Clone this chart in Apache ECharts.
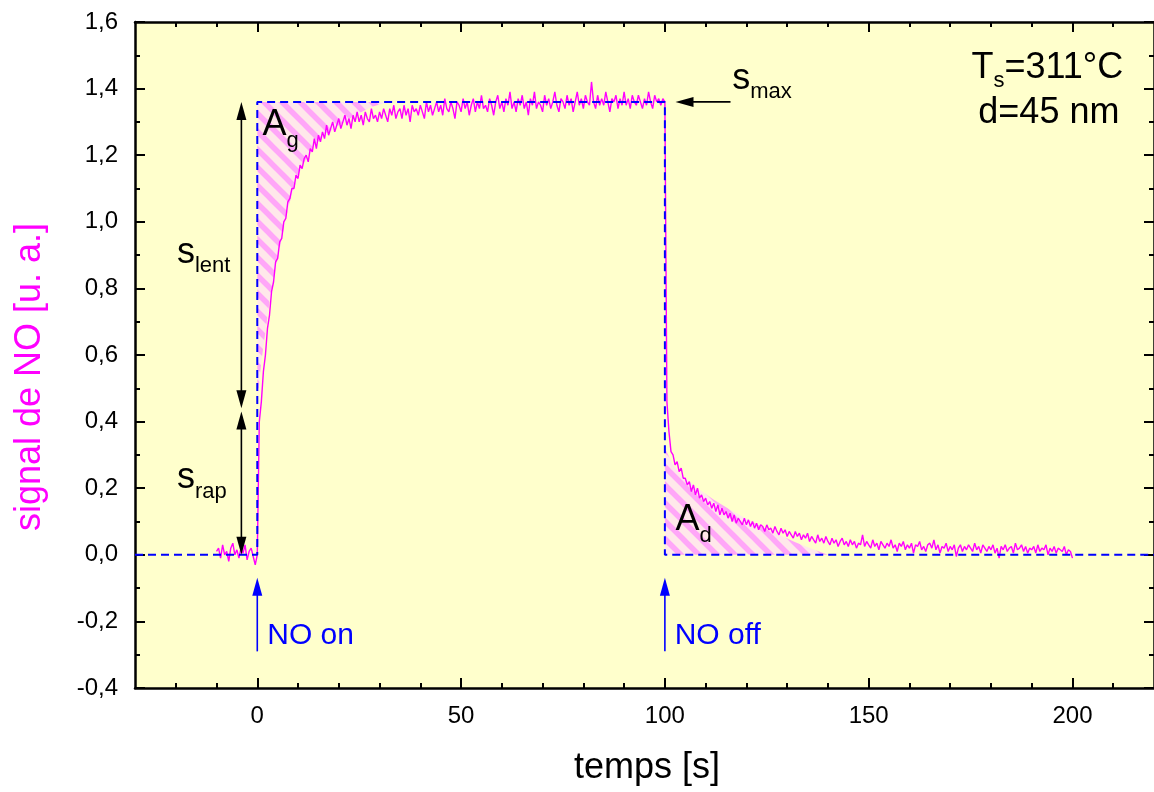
<!DOCTYPE html>
<html>
<head>
<meta charset="utf-8">
<script src="https://cdn.jsdelivr.net/npm/echarts@6.0.0/dist/echarts.min.js"></script>
<style>
  html, body { margin: 0; padding: 0; background: #ffffff; }
  #chart { width: 1154px; height: 792px; }
</style>
</head>
<body>
<div id="chart"></div>
<script>
// ---------------- DATA ----------------
// Sampling grid of the measured NO signal (seconds)
const DT = 0.5;
const PRE_T0 = -10;     // baseline before NO on
const RISE_T0 = 0;      // NO on
const DECAY_T0 = 100;   // NO off

// Measured signal before NO on (t = -10 ... -0.5)
const preSignal = [
  0.01, 0.02, -0.01, 0.03, 0.00, 0.01, -0.02, 0.02, 0.035, 0.00,
  0.015, -0.01, 0.02, 0.005, 0.03, -0.015, 0.01, 0.02, -0.005, -0.03
];

// Measured signal while NO is on (t = 0 ... 99.5)
const riseSignal = [
  0.00, 0.40, 0.46, 0.55, 0.60, 0.68, 0.72, 0.79, 0.82, 0.88,
  0.89, 0.94, 0.95, 1.00, 1.01, 1.06, 1.07, 1.10, 1.10, 1.14,
  1.13, 1.17, 1.16, 1.19, 1.20, 1.18, 1.22, 1.21, 1.25, 1.22,
  1.26, 1.24, 1.27, 1.25, 1.29, 1.26, 1.28, 1.30, 1.27, 1.29,
  1.31, 1.28, 1.30, 1.32, 1.29, 1.31, 1.28, 1.32, 1.30, 1.33,
  1.30, 1.32, 1.29, 1.33, 1.31, 1.30, 1.34, 1.31, 1.32, 1.30,
  1.33, 1.31, 1.34, 1.32, 1.30, 1.34, 1.32, 1.35, 1.31, 1.33,
  1.34, 1.31, 1.35, 1.32, 1.34, 1.30, 1.35, 1.33, 1.34, 1.32,
  1.35, 1.33, 1.31, 1.36, 1.33, 1.35, 1.32, 1.34, 1.36, 1.33,
  1.35, 1.32, 1.37, 1.34, 1.33, 1.36, 1.34, 1.31, 1.36, 1.35,
  1.33, 1.37, 1.34, 1.36, 1.32, 1.35, 1.37, 1.33, 1.36, 1.34,
  1.38, 1.34, 1.35, 1.33, 1.37, 1.35, 1.32, 1.36, 1.38, 1.34,
  1.36, 1.33, 1.37, 1.35, 1.39, 1.34, 1.36, 1.33, 1.37, 1.35,
  1.38, 1.34, 1.36, 1.32, 1.37, 1.35, 1.39, 1.34, 1.36, 1.35,
  1.33, 1.38, 1.35, 1.37, 1.34, 1.36, 1.39, 1.35, 1.33, 1.37,
  1.36, 1.34, 1.38, 1.35, 1.37, 1.33, 1.36, 1.39, 1.35, 1.37,
  1.34, 1.38, 1.36, 1.35, 1.42, 1.36, 1.34, 1.38, 1.35, 1.37,
  1.35, 1.39, 1.36, 1.33, 1.37, 1.36, 1.38, 1.34, 1.37, 1.35,
  1.39, 1.35, 1.37, 1.34, 1.38, 1.36, 1.35, 1.38, 1.36, 1.34,
  1.37, 1.35, 1.39, 1.36, 1.34, 1.38, 1.36, 1.37, 1.35, 1.37
];

// Measured signal after NO off (t = 100 ... 200)
const decaySignal = [
  1.36, 0.46, 0.37, 0.31, 0.30, 0.27, 0.28, 0.25, 0.26, 0.23,
  0.23, 0.21, 0.22, 0.19, 0.21, 0.18, 0.20, 0.17, 0.18, 0.16,
  0.17, 0.15, 0.16, 0.14, 0.155, 0.13, 0.15, 0.12, 0.14, 0.12,
  0.13, 0.11, 0.125, 0.10, 0.12, 0.095, 0.11, 0.10, 0.09, 0.11,
  0.09, 0.105, 0.085, 0.10, 0.08, 0.095, 0.075, 0.09, 0.085, 0.07,
  0.09, 0.075, 0.08, 0.065, 0.085, 0.07, 0.06, 0.08, 0.065, 0.075,
  0.055, 0.07, 0.06, 0.05, 0.07, 0.055, 0.065, 0.045, 0.06, 0.05,
  0.065, 0.04, 0.055, 0.045, 0.035, 0.06, 0.04, 0.05, 0.035, 0.055,
  0.04, 0.03, 0.05, 0.035, 0.045, 0.025, 0.04, 0.05, 0.03, 0.04,
  0.025, 0.045, 0.03, 0.04, 0.02, 0.035, 0.03, 0.06, 0.025, 0.04,
  0.03, 0.02, 0.045, 0.025, 0.035, 0.015, 0.04, 0.03, 0.02, 0.035,
  0.025, 0.045, 0.02, 0.03, 0.01, 0.035, 0.025, 0.04, 0.015, 0.03,
  0.02, 0.035, 0.005, 0.03, 0.025, 0.04, 0.015, 0.025, 0.01, 0.03,
  0.035, 0.02, 0.045, 0.015, 0.03, 0.005, 0.025, 0.02, 0.035, 0.01,
  0.025, 0.015, 0.03, -0.005, 0.02, 0.03, 0.01, 0.025, 0.015, 0.03,
  0.02, 0.01, 0.035, 0.015, 0.025, 0.005, 0.03, 0.02, 0.01, 0.025,
  0.015, 0.03, 0.005, 0.02, -0.01, 0.025, 0.015, 0.03, 0.01, 0.02,
  0.025, 0.005, 0.035, 0.015, 0.02, 0.03, 0.01, 0.025, 0.005, 0.02,
  0.015, 0.025, 0.005, 0.03, 0.01, 0.02, 0.015, 0.03, 0.00, 0.02,
  0.01, 0.025, 0.005, 0.02, 0.015, 0.01, 0.025, 0.00, 0.015, 0.01,
  -0.01
];

// Smooth fits bounding the hatched areas A_g and A_d
const fitRiseT = [0, 0.5, 1, 2, 3, 4, 5, 6, 7, 8, 10, 12, 14, 17, 20, 24, 28, 32];
const fitRiseV = [0.44, 0.52, 0.58, 0.67, 0.76, 0.83, 0.89, 0.95, 1.01, 1.06, 1.14, 1.19, 1.23, 1.265, 1.29, 1.32, 1.345, 1.36];
const fitDecayT = [100, 102, 104, 106, 108, 112, 116, 120, 124, 128, 132, 136, 140];
const fitDecayV = [0.32, 0.27, 0.24, 0.22, 0.20, 0.165, 0.135, 0.108, 0.083, 0.06, 0.038, 0.018, 0.0];

// Characteristic levels
const S_MAX = 1.36;
const S_RAP = 0.435;

// Axes
const X_MIN = -30, X_MAX = 220;
const Y_MIN = -0.4, Y_MAX = 1.6;
const X_MAJOR = [0, 50, 100, 150, 200];
const X_LABELS = ['0', '50', '100', '150', '200'];
const X_MINOR = [-20, -10, 10, 20, 30, 40, 60, 70, 80, 90, 110, 120, 130, 140, 160, 170, 180, 190, 210];
const Y_TICKS = [-0.4, -0.2, 0, 0.2, 0.4, 0.6, 0.8, 1.0, 1.2, 1.4, 1.6];
const Y_LABELS = ['-0,4', '-0,2', '0,0', '0,2', '0,4', '0,6', '0,8', '1,0', '1,2', '1,4', '1,6'];

// ---------------- BUILD ----------------
const FONT = "'Liberation Sans', Arial, Helvetica, sans-serif";
const signal = [];
preSignal.forEach((v, i) => signal.push([PRE_T0 + i * DT, v]));
riseSignal.forEach((v, i) => signal.push([RISE_T0 + i * DT, v]));
decaySignal.forEach((v, i) => signal.push([DECAY_T0 + i * DT, v]));

const outline = [[X_MIN, 0], [RISE_T0, 0], [RISE_T0, S_MAX], [DECAY_T0, S_MAX], [DECAY_T0, 0], [X_MAX, 0]];

const riseArea = [[RISE_T0, S_MAX]].concat(fitRiseT.map((t, i) => [t, fitRiseV[i]]));
const decayArea = [[DECAY_T0, 0]].concat(fitDecayT.map((t, i) => [t, fitDecayV[i]]));

function makeHatch() {
  const P = 18;
  const c = document.createElement('canvas');
  c.width = P; c.height = P;
  const g = c.getContext('2d');
  g.fillStyle = '#FFE8EA';
  g.fillRect(0, 0, P, P);
  g.strokeStyle = '#FFA6F8';
  g.lineWidth = 5.5;
  for (const k of [-P, 0, P]) {
    g.beginPath();
    g.moveTo(k - 3, -3);
    g.lineTo(k + P + 3, P + 3);
    g.stroke();
  }
  return c;
}
const hatch = { image: makeHatch(), repeat: 'repeat' };

// Arrows: [x1, y1, x2, y2, headAtStart, headAtEnd, color]
const ARROWS = [
  [-3.9, 0, -3.9, 0.43, 1, 1, '#000000'],
  [-3.9, 0.44, -3.9, S_MAX, 1, 1, '#000000'],
  [116.1, S_MAX, 102.6, S_MAX, 0, 1, '#000000'],
  [RISE_T0, -0.29, RISE_T0, -0.069, 0, 1, '#0000FF'],
  [DECAY_T0, -0.29, DECAY_T0, -0.069, 0, 1, '#0000FF']
];

// Text annotations anchored in data coordinates: parts = [text, fontSize, dx, dy]
const NOTES = [
  { at: [1.3, 1.291], color: '#000000', parts: [['A', 36, 0, 0], ['g', 22, 24, 16]] },
  { at: [102.6, 0.105], color: '#000000', parts: [['A', 36, 0, 0], ['d', 22, 24, 16]] },
  { at: [-19.7, 0.907], color: '#000000', parts: [['s', 36, 0, 0], ['lent', 22, 18, 13]] },
  { at: [-19.7, 0.231], color: '#000000', parts: [['s', 36, 0, 0], ['rap', 22, 18, 14]] },
  { at: [116.5, 1.43], color: '#000000', parts: [['s', 36, 0, 0], ['max', 22, 18, 13]] },
  { at: [175.2, 1.462], color: '#000000', parts: [['T', 36, 0, 0], ['s', 22, 22, 13], ['=311°C', 36, 33, 0]] },
  { at: [176.9, 1.327], color: '#000000', parts: [['d=45 nm', 36, 0, 0]] },
  { at: [2.44, -0.243], color: '#0000FF', parts: [['NO on', 30, 0, 0]] },
  { at: [102.4, -0.243], color: '#0000FF', parts: [['NO off', 30, 0, 0]] }
];

function polygonRender(points) {
  return function (params, api) {
    return {
      type: 'polygon',
      shape: { points: points.map(p => api.coord(p)) },
      style: { fill: hatch, stroke: null }
    };
  };
}

function headPoly(tip, ux, uy, color) {
  const L = 18, W = 5;
  const bx = tip[0] - ux * L, by = tip[1] - uy * L;
  const nx = -uy, ny = ux;
  return {
    type: 'polygon',
    shape: { points: [tip, [bx + nx * W, by + ny * W], [bx - nx * W, by - ny * W]] },
    style: { fill: color, stroke: null }
  };
}

function arrowRender(params, api) {
  const a = ARROWS[params.dataIndex];
  const p1 = api.coord([a[0], a[1]]);
  const p2 = api.coord([a[2], a[3]]);
  const dx = p2[0] - p1[0], dy = p2[1] - p1[1];
  const len = Math.hypot(dx, dy);
  const ux = dx / len, uy = dy / len;
  const children = [];
  let s = p1, e = p2;
  if (a[4]) { s = [p1[0] + ux * 12, p1[1] + uy * 12]; children.push(headPoly(p1, -ux, -uy, a[6])); }
  if (a[5]) { e = [p2[0] - ux * 12, p2[1] - uy * 12]; children.push(headPoly(p2, ux, uy, a[6])); }
  children.unshift({
    type: 'line',
    shape: { x1: s[0], y1: s[1], x2: e[0], y2: e[1] },
    style: { stroke: a[6], lineWidth: 1.6 }
  });
  return { type: 'group', children: children };
}

function noteRender(params, api) {
  const n = NOTES[params.dataIndex];
  const p = api.coord(n.at);
  return {
    type: 'group',
    children: n.parts.map(part => ({
      type: 'text',
      x: p[0] + part[2],
      y: p[1] + part[3],
      style: {
        text: part[0], fontSize: part[1], fontFamily: FONT, fill: n.color,
        align: 'left', verticalAlign: 'middle'
      }
    }))
  };
}

const chart = echarts.init(document.getElementById('chart'), null, { renderer: 'canvas' });

const tickStyle = { color: '#000000', width: 2 };
function xAxisDef(position, major, withLabels) {
  return {
    type: 'value', position: position, gridIndex: 0,
    min: X_MIN, max: X_MAX,
    axisLine: { show: major, onZero: false, lineStyle: { color: '#000000', width: 2.5 } },
    axisTick: {
      show: true, inside: true, length: major ? 10 : 5, lineStyle: tickStyle,
      customValues: major ? X_MAJOR : X_MINOR
    },
    axisLabel: withLabels ? {
      show: true, customValues: X_MAJOR, margin: 16,
      fontSize: 24, fontFamily: FONT, color: '#000000',
      formatter: v => X_LABELS[X_MAJOR.indexOf(v)]
    } : { show: false },
    splitLine: { show: false }
  };
}
function yAxisDef(position, withLabels) {
  return {
    type: 'value', position: position, gridIndex: 0,
    min: Y_MIN, max: Y_MAX, interval: 0.2,
    axisLine: { show: true, onZero: false, lineStyle: { color: '#000000', width: 2.5 } },
    axisTick: { show: true, inside: true, length: 10, lineStyle: tickStyle },
    minorTick: { show: true, splitNumber: 2, length: 5, lineStyle: tickStyle },
    axisLabel: withLabels ? {
      show: true, margin: 17, fontSize: 24, fontFamily: FONT, color: '#000000',
      formatter: v => {
        const i = Y_TICKS.findIndex(t => Math.abs(t - v) < 1e-6);
        return i >= 0 ? Y_LABELS[i] : '';
      }
    } : { show: false },
    splitLine: { show: false },
    minorSplitLine: { show: false }
  };
}

chart.setOption({
  animation: false,
  backgroundColor: '#ffffff',
  grid: {
    left: 135, right: -4, top: 22, bottom: 104,
    show: true, backgroundColor: '#FFFFCC', borderWidth: 0
  },
  xAxis: [
    xAxisDef('bottom', true, true),
    xAxisDef('bottom', false, false),
    xAxisDef('top', true, false),
    xAxisDef('top', false, false)
  ],
  yAxis: [
    yAxisDef('left', true),
    yAxisDef('right', false)
  ],
  graphic: [
    {
      type: 'text', x: 647, y: 768,
      style: { text: 'temps [s]', fontSize: 36, fontFamily: FONT, fill: '#000000', align: 'center', verticalAlign: 'middle' }
    },
    {
      type: 'text', x: 30, y: 377, rotation: Math.PI / 2,
      style: { text: 'signal de NO [u. a.]', fontSize: 36, fontFamily: FONT, fill: '#FF00FF', align: 'center', verticalAlign: 'middle' }
    }
  ],
  series: [
    {
      name: 'A_g', type: 'custom', xAxisIndex: 0, yAxisIndex: 0,
      data: [[RISE_T0, S_MAX]], renderItem: polygonRender(riseArea), z: 1, silent: true
    },
    {
      name: 'A_d', type: 'custom', xAxisIndex: 0, yAxisIndex: 0,
      data: [[DECAY_T0, 0]], renderItem: polygonRender(decayArea), z: 1, silent: true
    },
    {
      name: 'signal de NO', type: 'line', xAxisIndex: 0, yAxisIndex: 0,
      data: signal, showSymbol: false, symbol: 'none',
      lineStyle: { color: '#FF00FF', width: 1.4 }, z: 3, silent: true
    },
    {
      name: 'contour', type: 'line', xAxisIndex: 0, yAxisIndex: 0,
      data: outline, showSymbol: false, symbol: 'none',
      lineStyle: { color: '#0000FF', width: 2, type: [8, 5] }, z: 4, silent: true
    },
    {
      name: 'flèches', type: 'custom', xAxisIndex: 0, yAxisIndex: 0,
      data: ARROWS.map(a => [a[0], a[1]]), renderItem: arrowRender, z: 5, silent: true, clip: false
    },
    {
      name: 'annotations', type: 'custom', xAxisIndex: 0, yAxisIndex: 0,
      data: NOTES.map(n => n.at), renderItem: noteRender, z: 6, silent: true, clip: false
    }
  ]
});
</script>
</body>
</html>
